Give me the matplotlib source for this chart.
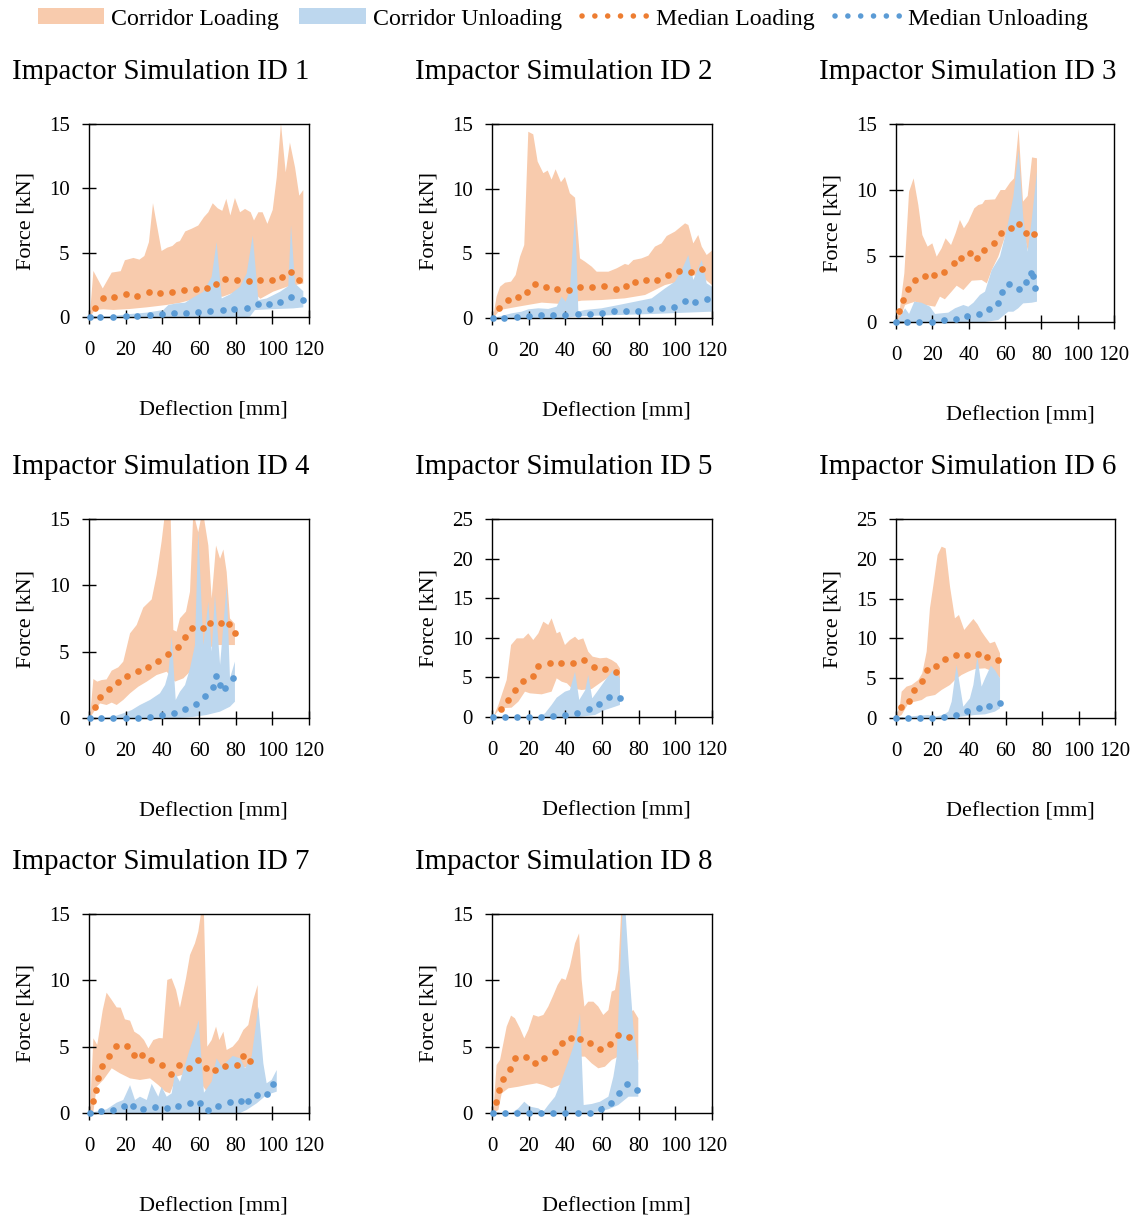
import numpy as np
import matplotlib
matplotlib.use("Agg")
import matplotlib.pyplot as plt
from matplotlib.patches import Patch
from matplotlib.lines import Line2D

plt.rcParams['font.family'] = ['Liberation Serif', 'DejaVu Serif']

# ---------------- data (x: deflection mm, y: force kN) ----------------
# ID 1
id1_med_load = [(3.3,0.72),(7.8,1.44),(13.8,1.55),(20,1.80),(26.4,1.65),(32.5,1.91),(38.9,1.88),(45.5,1.98),(52,2.06),(58.4,2.16),(64.4,2.27),(69.1,2.53),(74.2,2.96),(80.5,2.86),(87.1,2.81),(93.5,2.84),(99.8,2.84),(105.3,3.14),(110.2,3.53),(114.5,2.84)]
id1_med_unload = [(0.5,0),(6,0),(13.3,0.03),(20,0.05),(26.4,0.08),(33.1,0.18),(39.6,0.26),(46.4,0.31),(52.9,0.33),(59.5,0.39),(66.2,0.44),(72.9,0.52),(79.3,0.62),(86,0.67),(92.2,1.0),(98.4,1.03),(104.2,1.19),(110.2,1.55),(116.5,1.31)]
id1_load_up = [(0.5,0.15),(2.4,3.58),(7.5,2.22),(12.4,3.45),(17.3,3.56),(19.6,4.41),(24.2,4.59),(27.5,4.46),(30.2,4.74),(32.7,5.82),(34.9,8.84),(39.6,5.13),(42.7,5.39),(45.5,5.52),(47.8,5.82),(49.6,5.90),(52.5,6.65),(56,6.86),(59.6,7.11),(62.7,7.76),(65.1,8.14),(67.5,8.84),(70.2,8.45),(72.7,8.25),(74.9,9.18),(77.1,7.89),(79.6,9.25),(82.4,8.14),(85.1,8.40),(88.2,8.14),(90,7.5),(92.4,8.14),(94.7,8.14),(97.3,7.24),(100.2,8.32),(102.4,10.85),(104.7,15.05),(107.3,11.24),(109.6,13.56),(112.4,11.62),(114.7,9.43),(116.9,9.87)]
id1_load_lo = [(0.5,0),(3.3,0.55),(7.8,0.6),(13.3,0.55),(22,0.62),(31.5,0.75),(42,0.93),(49.6,1.1),(58.7,1.45),(67.8,1.58),(73,1.58),(80.5,1.97),(88,2.1),(93.5,1.42),(100.5,1.97),(108,2.35),(113.3,2.5),(116.9,2.6)]
id1_unload_up = [(0.5,0),(13.3,0.08),(22.4,0.23),(31.5,0.34),(40.5,0.54),(43.3,0.93),(47.8,1.06),(52.4,1.11),(56.9,1.52),(62.4,1.96),(66.9,3.12),(69.6,5.82),(72.4,1.44),(76.9,1.75),(82.4,2.35),(86,3.38),(89.3,6.34),(92.4,1.31),(96.9,1.44),(104.2,1.96),(108.7,2.40),(110.2,7.11),(112.4,2.6),(116.9,2.0)]
id1_unload_lo = [(0.5,0),(86,0),(87.8,0.03),(90.5,0.54),(96.9,0.59),(111.5,0.67),(116.9,0.75)]

# ID 2
id2_med_load = [(3.8,0.80),(8.5,1.39),(14,1.62),(19.1,1.98),(23.5,2.60),(29.5,2.40),(35.6,2.24),(42,2.14),(48.2,2.42),(54.5,2.42),(60.9,2.45),(67.5,2.27),(73.1,2.50),(78,2.76),(84.2,2.91),(90,2.94),(95.8,3.30),(102,3.63),(108.5,3.53),(114.4,3.81)]
id2_med_unload = [(0.7,0),(6.7,0),(13.5,0.1),(20,0.18),(26.7,0.21),(33.5,0.23),(40,0.26),(46.7,0.31),(53.3,0.31),(59.8,0.39),(66.4,0.52),(72.9,0.57),(79.5,0.54),(86,0.70),(92.5,0.80),(99.1,0.88),(105.1,1.29),(110.7,1.26),(117.1,1.47)]
id2_load_up = [(0.7,0.1),(2.5,1.65),(4.4,2.42),(7.1,2.73),(10.4,2.81),(12.9,3.32),(15.3,4.74),(17.6,5.64),(19.8,14.4),(22.5,14.2),(24.9,12.1),(28,11.2),(30.4,11.4),(32.5,10.7),(34.7,11.5),(37.6,10.5),(39.8,10.9),(42.5,9.64),(45.3,9.30),(48,4.61),(50.7,4.36),(54.4,3.97),(57.1,3.58),(63.5,3.58),(68,3.84),(72.5,4.18),(74.4,4.10),(77.1,4.48),(81.6,4.61),(85.3,4.82),(88.9,5.52),(92.5,5.77),(95.3,6.34),(99.8,6.68),(105.3,7.32),(107.1,7.19),(109.8,5.77),(112.5,6.42),(114.4,5.52),(117.1,4.87),(120,5.21)]
id2_load_lo = [(0.7,0),(4.4,0.62),(14.4,0.88),(27.1,1.19),(38,1.08),(48.9,1.34),(59.8,1.39),(72.5,1.52),(83.5,1.78),(94.4,2.55),(101.8,2.81),(108.9,3.32),(114.4,3.2),(120,2.55)]
id2_unload_up = [(0.7,0),(10.7,0.36),(16.2,0.49),(19.8,0.67),(25.3,0.75),(30.7,0.70),(35.3,0.88),(38,1.65),(40.2,1.26),(42.5,2.16),(45.3,8.09),(47.1,0.49),(50.7,0.62),(59.8,0.75),(68.9,1.0),(78,1.26),(87.1,1.52),(94.4,2.29),(99.8,2.81),(103.5,3.71),(107.1,4.87),(109.8,2.94),(114.4,4.48),(117.1,2.68),(120,2.42)]
id2_unload_lo = [(0.7,0),(38,0),(45.3,0.1),(50.7,0.15),(68.9,0.23),(87.1,0.31),(105.3,0.41),(120,0.49)]

# ID 3
id3_med_load = [(1.7,0.83),(4.0,1.69),(6.4,2.53),(10.5,3.16),(15.8,3.46),(20.7,3.59),(26.2,3.81),(31.7,4.47),(35.6,4.82),(40.5,5.20),(44.8,4.82),(48.6,5.43),(53.8,6.01),(57.9,6.72),(63.1,7.12),(67.7,7.45),(71.7,6.74),(76.1,6.64)]
id3_med_unload = [(0,0),(6.2,0),(12.8,0),(19.6,0),(26.2,0.15),(32.8,0.23),(38.9,0.45),(45.5,0.61),(51.4,1.01),(56,1.46),(58.5,2.30),(62.2,2.85),(67.5,2.47),(71.4,3.03),(74.1,3.71),(75.6,3.51),(76.7,2.55)]
id3_load_up = [(0,0),(2.2,1.04),(4.6,3.69),(7.2,9.87),(9.7,10.88),(12.3,8.86),(14.5,6.59),(17.4,5.71),(20,5.96),(22.4,4.95),(25.1,5.58),(27.3,6.34),(30.3,5.83),(32.8,6.72),(35.2,7.73),(37.4,7.10),(39.8,7.60),(43.1,8.61),(45.3,8.86),(47.5,8.94),(49,9.24),(54.5,9.29),(57.6,10.0),(60,10.0),(62.8,10.56),(65,10.88),(67.5,14.6),(69.9,9.12),(72.5,9.55),(74.9,12.47),(77.6,12.4)]
id3_load_lo = [(0,0),(2.2,0.28),(5,1.29),(10.5,1.54),(16,1.29),(21.5,1.16),(24.2,1.92),(26.9,1.72),(30.6,2.30),(33.4,2.75),(37.1,2.42),(41.7,3.13),(47.2,3.18),(50,2.93),(52.7,3.94),(56.3,4.95),(60,6.46),(63.7,7.7),(67.3,8.5),(72.5,5.45),(77.6,5.45)]
id3_unload_up = [(0,0),(2.2,0.40),(5,1.04),(7.2,0.61),(10.1,1.54),(14.1,1.46),(18.7,1.16),(21.5,0.61),(25.1,0.66),(28.8,0.71),(32.5,1.04),(37.1,1.29),(39.8,1.16),(42.6,1.46),(46.2,2.05),(49,2.30),(52.7,3.94),(57.2,4.95),(60.9,6.97),(64.6,9.49),(67.5,13.0),(70,7.98),(72.5,5.33),(74.7,7.73),(77.6,11.4)]
id3_unload_lo = [(0,0),(49,0),(56.3,0.15),(61.8,0.78),(64.6,0.78),(67.3,1.04),(70,1.41),(74.7,1.46),(77.6,1.54)]

# ID 4
id4_med_load = [(3.1,0.80),(6,1.61),(10.9,2.21),(15.8,2.71),(20.9,3.19),(26.5,3.57),(32.2,3.87),(37.8,4.32),(43.1,4.82),(48.4,5.35),(52.4,6.08),(56.4,6.78),(62.4,6.78),(66.2,7.19),(72,7.19),(76.2,7.11),(79.6,6.41)]
id4_med_unload = [(0.5,0),(6.5,0),(13.3,0),(20,0),(26.5,0),(33.1,0.05),(39.6,0.20),(46.2,0.38),(52.2,0.68),(58.2,1.08),(63.3,1.66),(67.6,2.31),(69.5,3.19),(71.3,2.49),(74.2,2.26),(78.4,2.99)]
id4_load_up = [(0.5,0),(2.4,2.94),(4.5,2.74),(6.9,2.86),(9.6,2.91),(12.4,3.57),(16,3.82),(18.7,4.25),(22.4,6.38),(26,7.01),(29.6,8.32),(34.2,8.94),(36.9,10.78),(39.6,13.3),(41.5,15.5),(44.5,15.5),(46,6.63),(47.8,6.51),(49.6,7.51),(52.9,8.02),(55.1,9.52),(56.9,15.5),(59.6,14.0),(62,15.7),(65.1,13.0),(66.9,9.0),(69.3,13.0),(71.5,12.0),(73.3,12.7),(75.1,11.0),(76.9,7.5),(79.6,7.1)]
id4_load_lo = [(0.5,0),(3.3,0.6),(6,1.1),(9.6,0.98),(12.4,1.16),(15.1,0.98),(18.7,1.36),(22.4,1.86),(26.9,2.36),(31.5,2.74),(36.9,3.24),(42.4,3.49),(46.9,2.74),(51.5,2.99),(55.1,3.49),(60.5,4.25),(64.2,5.0),(67.8,5.5),(71.5,5.5),(76,5.5),(79.6,5.5)]
id4_unload_up = [(0.5,0),(13.3,0.1),(18.7,0.35),(23.3,0.6),(27.8,0.98),(33.3,1.36),(38.7,1.86),(41.5,2.49),(43.3,3.37),(45.1,6.13),(47.3,1.36),(49.6,1.98),(52.4,2.49),(55.1,3.74),(57.8,5.5),(59.6,14.17),(62.4,5.5),(65.1,8.77),(66.9,5.0),(68.7,9.27),(71.5,4.0),(75.1,10.03),(76.9,3.0),(79.6,4.25)]
id4_unload_lo = [(0.5,0),(49.6,0),(56.9,0.08),(64.2,0.23),(71.5,0.48),(76.9,0.85),(79.6,1.23)]

# ID 5
id5_med_load = [(4.7,1.01),(8.9,2.19),(12.5,3.41),(16.7,4.59),(22.2,5.18),(25.3,6.48),(31.6,6.78),(37.6,6.86),(44,6.86),(50.2,7.15),(55.5,6.27),(61.6,6.02),(67.6,5.68)]
id5_med_unload = [(0.7,0),(7.1,0),(13.6,0),(20.2,0),(26.9,0),(33.5,0.08),(40,0.21),(46.5,0.55),(52.7,0.97),(58.5,1.6),(63.8,2.48),(69.6,2.44)]
id5_load_up = [(0.7,0),(3.5,1.52),(6.2,3.41),(8,4.67),(10.4,9.09),(13.5,9.93),(17.1,9.93),(19.8,10.56),(22.5,9.72),(25.3,10.56),(28,12.04),(30.7,11.62),(32.5,12.46),(35.3,10.56),(37.1,10.77),(39.8,9.09),(42.5,9.72),(45.3,10.14),(47.1,9.72),(49.8,9.93),(52.5,8.25),(54.9,7.62),(58.9,7.41),(62.5,7.49),(65.3,7.20),(68,6.78),(69.8,6.14)]
id5_load_lo = [(0.7,0),(4.4,1.09),(10.7,1.18),(14.4,1.94),(18,3.2),(20.7,2.99),(27.1,2.86),(32.5,3.2),(35.3,4.88),(38,4.46),(40.9,4.25),(43.5,3.62),(48.9,3.41),(54.4,3.54),(60,4.46),(65.3,5.3),(69.8,4.88)]
id5_unload_up = [(0.7,0),(25.3,0),(28.9,0.46),(32.5,1.52),(35.3,2.44),(39.8,3.2),(42.5,3.41),(45.3,5.72),(47.6,2.15),(50.9,3.41),(52.5,5.3),(54.7,2.36),(58,3.41),(62.5,4.88),(66.2,5.93),(69.8,4.88)]
id5_unload_lo = [(0.7,0),(47.1,0),(56.2,0.25),(61.6,0.88),(67.1,1.3),(69.8,1.52)]

# ID 6
id6_med_load = [(2.7,1.38),(7.3,2.09),(9.9,3.52),(14.2,4.69),(16.8,6.07),(21.9,6.49),(27,7.37),(32.7,7.91),(38.7,7.96),(44.7,8.04),(50,7.71),(55.7,7.29)]
id6_med_unload = [(0,0),(6.4,0),(13,0),(19.7,0),(26.5,0.13),(32.7,0.38),(39.1,0.88),(45.5,1.26),(51.1,1.55),(56.8,1.93)]
id6_load_up = [(0,0),(2.2,1.63),(3.1,3.31),(5.8,3.94),(8.6,4.15),(12.2,4.77),(14.4,5.61),(16.8,8.33),(18.6,13.78),(20.5,16.71),(22.8,20.48),(25,21.52),(27.2,21.31),(29.6,16.5),(32.3,12.52),(34.5,12.94),(37.4,11.06),(39.6,11.68),(42.4,12.44),(44.7,11.77),(46.9,10.85),(48.8,10.22),(51.5,9.38),(54.2,9.59),(57,8.12)]
id6_load_lo = [(0,0),(3.1,0.38),(6.8,1.84),(10.4,2.05),(14.1,2.26),(16.8,2.68),(21.4,2.89),(25,3.52),(29.6,4.15),(32.3,4.77),(35.9,5.4),(39.6,5.82),(43.3,6.16),(48.8,6.24),(53.4,5.82),(57,4.98)]
id6_unload_up = [(0,0),(12.2,0.29),(17.7,0.38),(21.4,0.17),(25.9,0.38),(28.7,0.8),(30.5,2.05),(33.2,6.66),(36.9,1.42),(40.5,2.47),(42.4,4.15),(44.6,7.71),(46.9,3.94),(48.8,4.98),(52,6.57),(54.2,6.03),(57,4.98)]
id6_unload_lo = [(0,0),(30.5,0),(36,0.17),(43.3,0.38),(48.8,0.46),(54.2,0.8),(57,1.21)]

# ID 7
id7_med_load = [(2.2,0.88),(3.6,1.76),(4.7,2.64),(7.3,3.52),(10.7,4.30),(14.5,5.03),(20.7,5.03),(24.5,4.40),(29.1,4.35),(33.8,4.0),(39.6,3.62),(44.5,2.96),(49.1,3.59),(54.4,3.42),(59.3,3.97),(63.8,3.42),(68.7,3.27),(74.2,3.54),(80.7,3.64),(84.2,4.32),(87.6,3.92)]
id7_med_unload = [(0.5,0),(6.5,0.18),(12.9,0.25),(18.9,0.53),(23.8,0.50),(29.3,0.30),(36,0.43),(42.4,0.38),(48.7,0.53),(55.1,0.73),(60.5,0.73),(64.7,0.23),(70.5,0.55),(76.7,0.85),(82.9,0.90),(86.9,0.93),(91.5,1.36),(96.9,1.46),(100.5,2.16)]
id7_load_up = [(0.5,0),(2.4,5.63),(4.5,5.13),(7.5,7.76),(9.6,9.07),(12.4,8.52),(15.1,7.96),(17.3,7.94),(19.6,7.06),(22.4,6.96),(24.7,6.13),(27.5,5.88),(30,5.50),(32.4,4.87),(35.1,5.50),(38.2,5.65),(40.2,5.63),(42.7,10.03),(45.1,10.15),(47.5,9.27),(49.6,7.94),(52.9,10.15),(55.1,11.91),(57.8,12.79),(59.6,13.67),(61.1,15.05),(62.7,15.05),(64.5,5.0),(66.9,5.5),(69.3,6.51),(71.1,5.5),(73.3,6.13),(75.1,4.75),(78.4,5.0),(81.5,5.5),(84.2,6.26),(86.9,6.63),(89.6,8.52),(92,9.65)]
id7_load_lo = [(0.5,0),(2.4,0.1),(4.2,1.98),(7.8,2.49),(12.4,3.37),(16.9,2.99),(22.4,2.61),(27.8,2.49),(33.3,2.61),(37.8,2.11),(41.6,1.61),(44.2,1.48),(47.8,2.74),(53.4,2.99),(58.7,2.74),(62.4,1.98),(64.3,1.61),(69.5,1.98),(75.1,3.24),(80.5,3.24),(86,3.49),(92.4,4.0)]
id7_unload_up = [(0.5,0),(9.6,0.28),(15.1,0.78),(18.7,0.98),(22.4,2.1),(25.1,0.98),(27.8,1.23),(31.5,0.98),(34.2,2.2),(37.8,1.23),(39.6,1.98),(42.4,1.23),(45.1,1.48),(46.9,2.99),(49.6,2.36),(55.1,4.87),(57.8,6.0),(59.8,7.01),(62.7,1.53),(66.9,2.36),(69.6,4.12),(72.4,3.49),(75.1,3.87),(78.4,4.30),(82.4,4.12),(85.1,3.37),(88.7,4.25),(92.4,8.02),(95.1,3.74),(96.9,2.24),(99.6,2.49),(102.4,3.24)]
id7_unload_lo = [(0.5,0),(82.4,0),(86,0.23),(91.5,0.73),(96.9,1.36),(102.4,1.61)]

# ID 8
id8_med_load = [(2.2,0.85),(4,1.76),(6.2,2.56),(9.8,3.29),(12.4,4.15),(18.4,4.20),(23.5,3.77),(28.5,4.17),(34.4,4.57),(38.2,5.28),(43.1,5.68),(47.8,5.60),(53.6,5.25),(59.1,4.80),(64.5,5.20),(68.9,5.88),(74.7,5.73)]
id8_med_unload = [(0.7,0),(7.1,0),(13.6,0),(20,0),(26.9,0),(33.5,0),(40,0),(46.9,0),(53.3,0),(59.6,0.28),(64.9,0.78),(69.3,1.51),(73.5,2.16),(78.9,1.76)]
id8_load_up = [(0.7,0),(2.5,3.62),(4.4,4.0),(6.2,5.25),(8,6.51),(10.4,7.34),(12.5,7.14),(15.3,6.38),(17.6,5.63),(19.8,6.26),(22.5,7.39),(25.3,7.26),(28,7.39),(30.7,8.02),(33.5,8.89),(35.8,9.65),(38,10.15),(40.2,10.03),(42.5,11.03),(45.3,12.79),(47.5,13.54),(48.9,10.03),(50.4,8.02),(52.5,8.39),(55.3,8.39),(58,8.02),(60.7,7.39),(63.5,7.76),(65.3,9.15),(67.1,9.27),(68.9,10.78),(70.4,15.05),(72.5,15.05),(74.7,7.51),(77.1,7.76),(79.8,7.14)]
id8_load_lo = [(0.7,0),(3.5,0.23),(5.3,1.48),(8.9,1.86),(14.4,1.98),(18.9,2.11),(24.4,2.24),(28,2.11),(32.5,1.86),(36.9,2.11),(41.6,2.74),(47.1,4.25),(50.7,4.25),(54.4,3.74),(58,3.37),(61.6,3.49),(65.3,4.0),(68.9,4.25),(74.5,4.0),(79.8,4.0)]
id8_unload_up = [(0.7,0),(10.7,0),(14.4,0.35),(17.6,0.85),(20.7,0.48),(25.3,0.35),(28,0.1),(30.7,0.6),(34.4,1.23),(38,2.49),(42.5,4.25),(45.6,5.5),(48,7.51),(50,0.6),(54.4,0.68),(58.9,0.85),(63.5,1.23),(66.2,2.74),(68,4.25),(69.8,10.28),(71.1,15.05),(72.9,15.05),(74.7,11.03),(77.1,6.51),(79.8,3.74)]
id8_unload_lo = [(0.7,0),(50.7,0),(58,0.1),(63.5,0.28),(68.9,0.6),(74.5,1.23),(79.8,1.23)]

titles = [f"Impactor Simulation ID {i}" for i in range(1, 9)]
y_max = [15, 15, 15, 15, 25, 25, 15, 15]
x_ticks = [0, 20, 40, 60, 80, 100, 120]

panels = [
    (id1_load_up, id1_load_lo, id1_unload_up, id1_unload_lo, id1_med_load, id1_med_unload),
    (id2_load_up, id2_load_lo, id2_unload_up, id2_unload_lo, id2_med_load, id2_med_unload),
    (id3_load_up, id3_load_lo, id3_unload_up, id3_unload_lo, id3_med_load, id3_med_unload),
    (id4_load_up, id4_load_lo, id4_unload_up, id4_unload_lo, id4_med_load, id4_med_unload),
    (id5_load_up, id5_load_lo, id5_unload_up, id5_unload_lo, id5_med_load, id5_med_unload),
    (id6_load_up, id6_load_lo, id6_unload_up, id6_unload_lo, id6_med_load, id6_med_unload),
    (id7_load_up, id7_load_lo, id7_unload_up, id7_unload_lo, id7_med_load, id7_med_unload),
    (id8_load_up, id8_load_lo, id8_unload_up, id8_unload_lo, id8_med_load, id8_med_unload),
]

# ---------------- layout (pixels) ----------------
W, H = 1136, 1218
rects = [(89, 309, 124, 317), (492, 712, 124, 318), (896, 1114, 124, 322),
         (89, 309, 519, 718), (492, 712, 519, 717), (896, 1115, 519, 718),
         (89, 309, 914, 1113), (492, 712, 914, 1113)]

ORANGE_FILL = '#F8CBAD'
BLUE_FILL = '#BDD7EE'
ORANGE = '#ED7D31'
BLUE = '#5B9BD5'

fig = plt.figure(figsize=(W / 100, H / 100), dpi=100)


def poly(up, lo):
    up = np.array(up, dtype=float)
    lo = np.array(lo, dtype=float)
    return np.concatenate([up[:, 0], lo[::-1, 0]]), np.concatenate([up[:, 1], lo[::-1, 1]])


for i, (rect, data) in enumerate(zip(rects, panels)):
    l, r, t, b = rect
    ax = fig.add_axes([l / W, 1 - b / H, (r - l) / W, (b - t) / H])
    lu, ll, uu, ul, ml, mu = data
    px, py = poly(lu, ll)
    ax.fill(px, py, color=ORANGE_FILL, lw=0, zorder=1)
    px, py = poly(uu, ul)
    ax.fill(px, py, color=BLUE_FILL, lw=0, zorder=1.1)
    ml = np.array(ml); mu = np.array(mu)
    ax.plot(ml[:, 0], ml[:, 1], 'o', ms=4.8, color=ORANGE, mec='none', zorder=3, clip_on=False)
    ax.plot(mu[:, 0], mu[:, 1], 'o', ms=4.8, color=BLUE, mec='none', zorder=3, clip_on=False)
    ax.set_xlim(0, 120)
    ax.set_ylim(0, y_max[i])
    ax.set_xticks(x_ticks)
    ax.set_yticks(np.arange(0, y_max[i] + 1, 5))
    for s in ax.spines.values():
        s.set_linewidth(1.0)
        s.set_color('black')
    ax.tick_params(axis='both', direction='inout', length=10, width=1, labelsize=15, colors='black')
    ax.tick_params(axis='x', pad=12)
    ax.tick_params(axis='y', pad=9)
    fig.text((l - 77) / W, 1 - (t - 52) / H, titles[i], fontsize=20.8, ha='left', va='center')
    fig.text((l - 63) / W, 1 - ((t + b) / 2) / H, 'Force [kN]', fontsize=16, rotation=90,
             ha='center', va='center')
    fig.text((l + 124) / W, 1 - (b + 94) / H, 'Deflection [mm]', fontsize=16, ha='center', va='center')

handles = [
    Patch(facecolor=ORANGE_FILL, edgecolor='none'),
    Patch(facecolor=BLUE_FILL, edgecolor='none'),
    Line2D([], [], color=ORANGE, lw=4, linestyle=(0, (0.01, 2.3)), dash_capstyle='round'),
    Line2D([], [], color=BLUE, lw=4, linestyle=(0, (0.01, 2.3)), dash_capstyle='round'),
]
labels = ['Corridor Loading', 'Corridor Unloading', 'Median Loading', 'Median Unloading']
fig.legend(handles, labels, loc='center', bbox_to_anchor=(563 / W, 1 - 19 / H), ncol=4, frameon=False,
           fontsize=17.2, handlelength=2.8, handleheight=0.6, columnspacing=0.85, handletextpad=0.28)

fig.savefig('out.png', dpi=100)
